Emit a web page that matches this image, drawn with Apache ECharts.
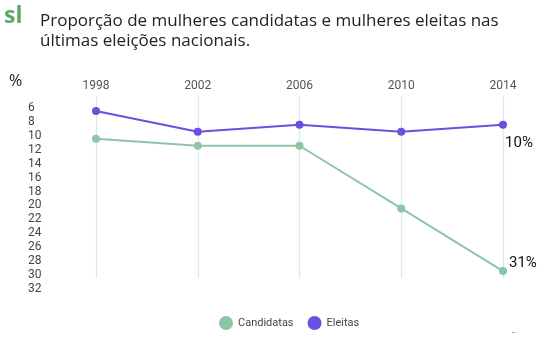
<!DOCTYPE html>
<html><head><meta charset="utf-8">
<script src="https://cdn.jsdelivr.net/npm/echarts@6/dist/echarts.min.js"></script>
<style>html,body{margin:0;padding:0;background:#fff}#c{width:543px;height:337px}</style>
</head><body><div id="c"></div>
<script>
const years = ['1998','2002','2006','2010','2014'];
const candidatas = [12, 13, 13, 22, 31];
const eleitas = [8, 11, 10, 11, 10];
const yTicks = {min: 6, max: 32, interval: 2};
const endLabels = {candidatas: '31%', eleitas: '10%'};
const titleText = 'Proporção de mulheres candidatas e mulheres eleitas nas\núltimas eleições nacionais.';

const GREEN = '#8cc6a7', PURPLE = '#6b4fde';
function withEndLabel(arr, text, labelOpt) {
  return arr.map((v, i) => i === arr.length - 1
    ? {value: v, label: Object.assign({show: true, formatter: text, color: '#111', fontSize: 15, fontFamily: 'Roboto'}, labelOpt)}
    : v);
}
const chart = echarts.init(document.getElementById('c'), null, {renderer: 'canvas'});
chart.setOption({
  animation: false,
  textStyle: {fontFamily: 'Roboto'},
  grid: {left: 96, right: 40, top: 97, bottom: 59},
  graphic: [
    {type: 'text', left: 4, top: 5, style: {text: 'sl', fill: '#5aa867', font: 'bold 23px "Open Sans"'}},
    {type: 'text', left: 40, top: 11, style: {text: titleText, fill: '#222', font: '17px "Open Sans"', lineHeight: 20}},
    {type: 'text', left: 9, top: 73, style: {text: '%', fill: '#222', font: '16px "Open Sans"'}},
    {type: 'rect', left: 512, top: 332, shape: {width: 3, height: 1}, style: {fill: '#7bbf8a'}}
  ],
  legend: {
    bottom: 2, left: 214, icon: 'circle', itemWidth: 14, itemHeight: 14, itemGap: 14,
    textStyle: {color: '#444', fontSize: 11, fontFamily: 'Roboto'},
    data: ['Candidatas', 'Eleitas']
  },
  xAxis: {
    type: 'category', data: years, position: 'top', boundaryGap: false,
    axisLine: {show: false}, axisTick: {show: false},
    axisLabel: {color: '#555', fontSize: 12, margin: 5, fontFamily: 'Roboto'},
    splitLine: {show: true, lineStyle: {color: '#d6ebe2', width: 1.2}}
  },
  yAxis: {
    type: 'value', inverse: true, min: yTicks.min, max: yTicks.max, interval: yTicks.interval,
    axisLine: {show: false}, axisTick: {show: false}, splitLine: {show: false},
    axisLabel: {color: '#444', fontSize: 12, align: 'left', margin: 68, verticalAlign: 'top', padding: [5, 0, 0, 0], fontFamily: 'Roboto'}
  },
  series: [
    {name: 'Candidatas', type: 'line', color: GREEN, symbol: 'circle', symbolSize: 8,
     lineStyle: {width: 2, color: GREEN}, itemStyle: {color: GREEN},
     data: withEndLabel(candidatas, endLabels.candidatas, {position: 'right', offset: [-3, -8]})},
    {name: 'Eleitas', type: 'line', color: PURPLE, symbol: 'circle', symbolSize: 8,
     lineStyle: {width: 2, color: PURPLE}, itemStyle: {color: PURPLE},
     data: withEndLabel(eleitas, endLabels.eleitas, {position: 'bottom', offset: [16, 2]})}
  ]
});
</script></body></html>
